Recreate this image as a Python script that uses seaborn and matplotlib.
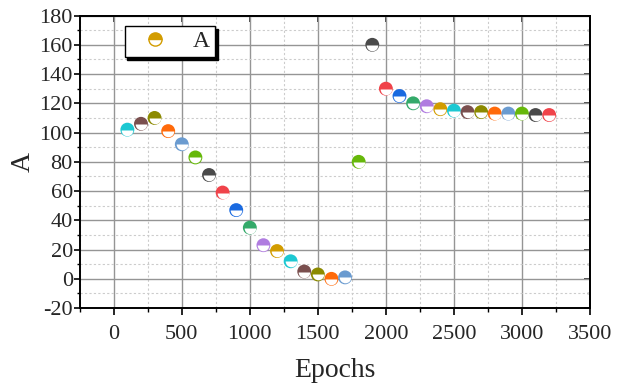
import numpy as np
import pandas as pd
import matplotlib
matplotlib.use('Agg')
import matplotlib.pyplot as plt
from matplotlib.lines import Line2D
from matplotlib.markers import MarkerStyle
from matplotlib.ticker import MultipleLocator
import seaborn as sns

# data
epochs = [100, 200, 300, 400, 500, 600, 700, 800, 900, 1000, 1100, 1200, 1300, 1400, 1500, 1600,
          1700, 1800, 1900, 2000, 2100, 2200, 2300, 2400, 2500, 2600, 2700, 2800, 2900, 3000, 3100, 3200]
values = [102, 106, 110, 101, 92, 83, 71, 59, 47, 35, 23, 19, 12, 5, 3, 0,
          1, 80, 160, 130, 125, 120, 118, 116, 115, 114, 114, 113, 113, 113, 112, 112]
colors = ['#1CC8D2', '#7A4F4E', '#8C8A00', '#FF6A0A', '#6A9BD0', '#66B80A',
          '#4A4A4A', '#F0434A', '#1A6AE0', '#34AA6A', '#B07CE0', '#D29C00']
series_name = 'A'

df = pd.DataFrame({'Epochs': epochs, 'A': values})
df['c'] = [i % len(colors) for i in range(len(df))]

sns.set_style('white')
plt.rcParams['font.family'] = ['Liberation Serif', 'DejaVu Serif']
plt.rcParams['axes.unicode_minus'] = False

fig = plt.figure(figsize=(6.23, 3.89), dpi=100)
ax = fig.add_axes([0.128, 0.208, 0.819, 0.752])

# grid
ax.set_axisbelow(True)
ax.grid(which='major', color='#959595', linewidth=1.0, linestyle='-')
ax.grid(which='minor', color='#cccccc', linewidth=0.8, linestyle=(0, (2, 2)))

# full coloured circles, then white lower half on top
sns.scatterplot(data=df, x='Epochs', y='A', hue='c', palette=colors, s=100,
                linewidth=0, legend=False, ax=ax, zorder=3)
sns.scatterplot(data=df, x='Epochs', y='A', marker=MarkerStyle('o', fillstyle='bottom'),
                color='white', s=70, linewidth=0, legend=False, ax=ax, zorder=4)

ax.set_xlim(-250, 3500)
ax.set_ylim(-20, 180)
ax.xaxis.set_major_locator(MultipleLocator(500))
ax.xaxis.set_minor_locator(MultipleLocator(250))
ax.yaxis.set_major_locator(MultipleLocator(20))
ax.yaxis.set_minor_locator(MultipleLocator(10))

for s in ax.spines.values():
    s.set_visible(True)
    s.set_color('black')
    s.set_linewidth(1.4)

ax.tick_params(which='both', bottom=True, left=True, top=False, right=False, color='black')
ax.tick_params(axis='x', which='major', direction='out', length=5, width=1.2, labelsize=16, pad=7)
ax.tick_params(axis='x', which='minor', direction='out', length=3, width=1.0)
ax.tick_params(axis='y', which='major', direction='out', length=4, width=1.2, labelsize=16, pad=1)
ax.tick_params(axis='y', which='minor', direction='out', length=2.5, width=1.0)

# inward ticks on right and top
sec_x = ax.secondary_xaxis('top')
sec_x.xaxis.set_major_locator(MultipleLocator(500))
sec_x.tick_params(direction='in', length=4, width=1.2, labeltop=False)
sec_y = ax.secondary_yaxis('right')
sec_y.yaxis.set_major_locator(MultipleLocator(20))
sec_y.yaxis.set_minor_locator(MultipleLocator(10))
sec_y.tick_params(which='major', direction='in', length=4, width=1.2, labelright=False)
sec_y.tick_params(which='minor', direction='in', length=2.5, width=1.0)
for sec in (sec_x, sec_y):
    for s in sec.spines.values():
        s.set_linewidth(1.4)

ax.set_xlabel('Epochs', fontsize=20, labelpad=10)
ax.set_ylabel('A', fontsize=20, labelpad=3)

handle = Line2D([], [], linestyle='none', marker='o', fillstyle='top', markersize=9.5,
                color=colors[11], markerfacecoloralt='white', markeredgecolor=colors[11],
                markeredgewidth=1.0)
leg = ax.legend([handle], [series_name], loc='upper left', bbox_to_anchor=(0.088, 0.965),
                frameon=True, fancybox=False, shadow={'color': 'black', 'alpha': 1},
                fontsize=17, handlelength=2.2, handletextpad=0.5, borderpad=0.2,
                borderaxespad=0)
leg.get_frame().set_edgecolor('black')
leg.get_frame().set_linewidth(1.0)
leg.set_zorder(10)

fig.savefig('out.png', dpi=100)
